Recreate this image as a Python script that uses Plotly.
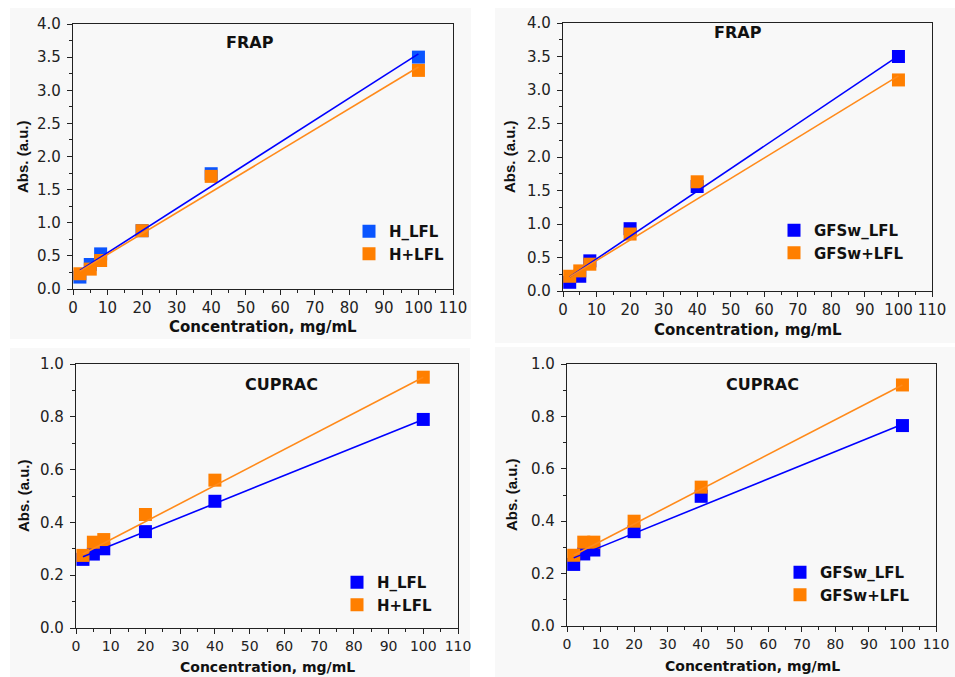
import plotly.graph_objects as go

W, H = 955, 677

conc = [2, 5, 8, 20, 40, 100]
fit_x = [2, 100]

# FRAP (H)
frap_h_blue = [0.18, 0.37, 0.53, 0.88, 1.74, 3.50]
frap_h_orange = [0.23, 0.30, 0.43, 0.88, 1.70, 3.30]
frap_h_blue_fit = [0.28, 3.55]
frap_h_orange_fit = [0.27, 3.35]

# FRAP (GFSw)
frap_g_blue = [0.13, 0.22, 0.45, 0.93, 1.56, 3.50]
frap_g_orange = [0.22, 0.30, 0.40, 0.85, 1.63, 3.15]
frap_g_blue_fit = [0.21, 3.51]
frap_g_orange_fit = [0.21, 3.21]

# CUPRAC (H)
cup_h_blue = [0.26, 0.28, 0.30, 0.365, 0.48, 0.79]
cup_h_orange = [0.275, 0.325, 0.335, 0.43, 0.56, 0.95]
cup_h_blue_fit = [0.27, 0.79]
cup_h_orange_fit = [0.28, 0.95]

# CUPRAC (GFSw)
cup_g_blue = [0.235, 0.275, 0.29, 0.36, 0.495, 0.765]
cup_g_orange = [0.27, 0.32, 0.32, 0.40, 0.53, 0.92]
cup_g_blue_fit = [0.26, 0.77]
cup_g_orange_fit = [0.27, 0.92]

x_ticks = list(range(0, 111, 10))

BLUE_TL = "#0a55ff"
BLUE = "#0000ff"
ORANGE = "#ff7f00"
FONT = "DejaVu Sans"
FONT_Y = "Liberation Sans"


def px(x):
    return x / W


def py(y):
    return 1 - y / H


panels = [
    dict(dom=(73, 453, 24, 289), yr=(0, 4), dt=0.5, mdt=0.25,
         blue=frap_h_blue, orange=frap_h_orange, bfit=frap_h_blue_fit, ofit=frap_h_orange_fit,
         names=("H_LFL", "H+LFL"), bcol=BLUE_TL, title="FRAP", tpos=(250, 42),
         xt=(263, 338), xfs=15, yt=(22, 157), leg=(349, 215)),
    dict(dom=(563, 932, 23, 291), yr=(0, 4), dt=0.5, mdt=0.25,
         blue=frap_g_blue, orange=frap_g_orange, bfit=frap_g_blue_fit, ofit=frap_g_orange_fit,
         names=("GFSw_LFL", "GFSw+LFL"), bcol=BLUE, title="FRAP", tpos=(738, 33),
         xt=(748, 341), xfs=15, yt=(509, 157), leg=(774, 214)),
    dict(dom=(76, 458, 364, 628), yr=(0, 1), dt=0.2, mdt=0.1,
         blue=cup_h_blue, orange=cup_h_orange, bfit=cup_h_blue_fit, ofit=cup_h_orange_fit,
         names=("H_LFL", "H+LFL"), bcol=BLUE, title="CUPRAC", tpos=(281, 384),
         xt=(267, 677), xfs=14, yt=(24, 496), leg=(337, 566)),
    dict(dom=(567, 936, 364, 626), yr=(0, 1), dt=0.2, mdt=0.1,
         blue=cup_g_blue, orange=cup_g_orange, bfit=cup_g_blue_fit, ofit=cup_g_orange_fit,
         names=("GFSw_LFL", "GFSw+LFL"), bcol=BLUE, title="CUPRAC", tpos=(762, 384),
         xt=(752, 676), xfs=14, yt=(511, 495), leg=(780, 556)),
]

panel_bg = [(10, 8, 471, 339), (495, 8, 955, 343), (10, 348, 470, 677), (495, 347, 955, 677)]

fig = go.Figure()
layout = dict(
    width=W, height=H, margin=dict(l=0, r=0, t=0, b=0),
    paper_bgcolor="white", plot_bgcolor="rgba(0,0,0,0)",
    showlegend=True, shapes=[], annotations=[],
)

for (x0, y0, x1, y1) in panel_bg:
    layout["shapes"].append(dict(type="rect", xref="paper", yref="paper",
                                 x0=px(x0), x1=px(x1), y0=py(y1), y1=py(y0),
                                 fillcolor="#f8f8f8", line=dict(width=0), layer="below"))

for i, p in enumerate(panels, start=1):
    xa = "x" if i == 1 else f"x{i}"
    ya = "y" if i == 1 else f"y{i}"
    lg = "legend" if i == 1 else f"legend{i}"
    fig.add_trace(go.Scatter(x=conc, y=p["blue"], mode="markers", name=p["names"][0],
                             marker=dict(symbol="square", size=13, color=p["bcol"]),
                             xaxis=xa, yaxis=ya, legend=lg, cliponaxis=False))
    fig.add_trace(go.Scatter(x=conc, y=p["orange"], mode="markers", name=p["names"][1],
                             marker=dict(symbol="square", size=13, color=ORANGE),
                             xaxis=xa, yaxis=ya, legend=lg, cliponaxis=False))
    fig.add_trace(go.Scatter(x=fit_x, y=p["bfit"], mode="lines", showlegend=False,
                             line=dict(color=BLUE, width=1.6), xaxis=xa, yaxis=ya))
    fig.add_trace(go.Scatter(x=fit_x, y=p["ofit"], mode="lines", showlegend=False,
                             line=dict(color="#ff8a1a", width=1.6), xaxis=xa, yaxis=ya))

    x0, x1, yt, yb = p["dom"]
    axis_common = dict(showline=True, linecolor="#222", linewidth=1.3, mirror=True,
                       ticks="outside", ticklen=5, tickwidth=1.2, tickcolor="#222",
                       showgrid=False, zeroline=False, automargin=False)
    xkey = "xaxis" if i == 1 else f"xaxis{i}"
    ykey = "yaxis" if i == 1 else f"yaxis{i}"
    layout[xkey] = dict(axis_common, domain=[px(x0), px(x1)], range=[0, 110],
                        tickvals=x_ticks, anchor=ya, ticklabelstandoff=0,
                        tickfont=dict(family=FONT, size=p["xfs"], color="#222"),
                        minor=dict(dtick=5, tick0=0, ticks="outside", ticklen=3, tickcolor="#222"))
    layout[ykey] = dict(axis_common, domain=[py(yb), py(yt)], range=list(p["yr"]),
                        dtick=p["dt"], tick0=0, tickformat=".1f", anchor=xa, ticklabelstandoff=3,
                        tickfont=dict(family=FONT, size=15, color="#222"),
                        minor=dict(dtick=p["mdt"], tick0=0, ticks="outside", ticklen=3, tickcolor="#222"))

    layout[lg] = dict(x=px(p["leg"][0]), y=py(p["leg"][1]), xanchor="left", yanchor="top",
                      bgcolor="rgba(0,0,0,0)", font=dict(family=FONT, size=15, color="#111", weight="bold"),
                      tracegroupgap=0, itemwidth=30)

    layout["annotations"].append(dict(text="<b>" + p["title"] + "</b>", xref="paper", yref="paper",
                                      x=px(p["tpos"][0]), y=py(p["tpos"][1]), showarrow=False,
                                      xanchor="center", yanchor="middle",
                                      font=dict(family=FONT, size=16, color="#111")))
    layout["annotations"].append(dict(text="<b>Concentration, mg/mL</b>", xref="paper", yref="paper",
                                      x=px(p["xt"][0]), y=py(p["xt"][1]), showarrow=False,
                                      xanchor="center", yanchor="bottom",
                                      font=dict(family=FONT, size=p["xfs"], color="#111")))
    layout["annotations"].append(dict(text="<b>Abs. (a.u.)</b>", xref="paper", yref="paper",
                                      x=px(p["yt"][0]), y=py(p["yt"][1]), showarrow=False,
                                      textangle=-90, xanchor="center", yanchor="middle",
                                      font=dict(family=FONT_Y, size=15, color="#111")))

fig.update_layout(**layout)
fig.write_html("out.html")
